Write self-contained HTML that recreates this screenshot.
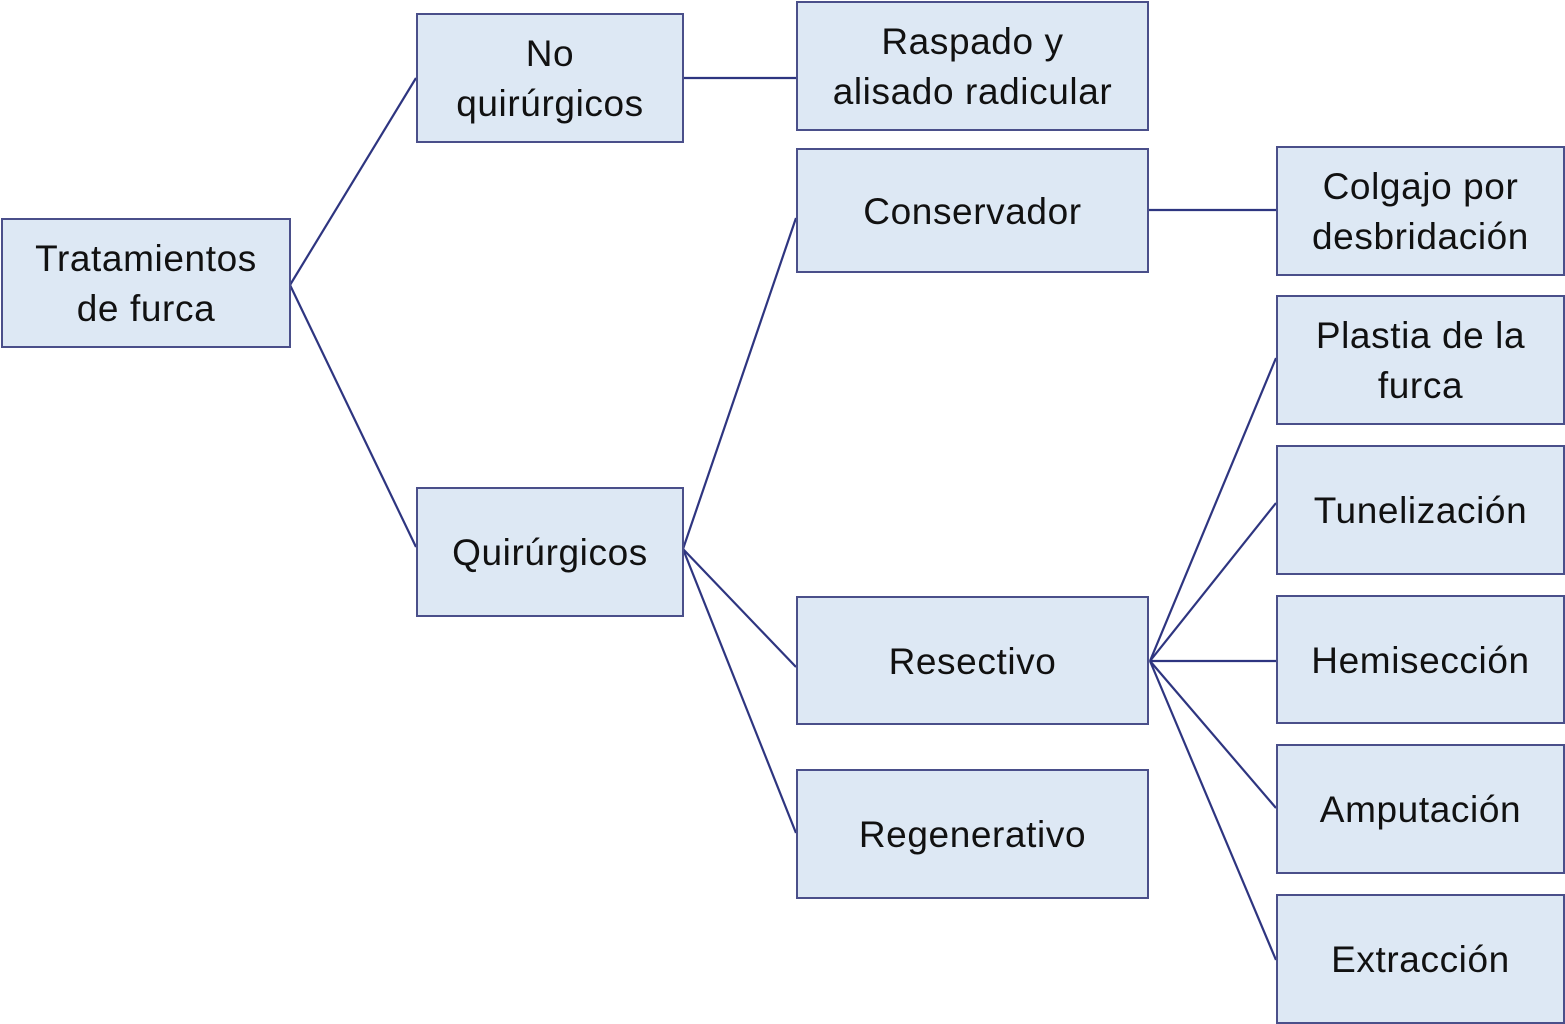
<!DOCTYPE html>
<html><head><meta charset="utf-8"><style>
body{margin:0;width:1565px;height:1024px;background:#fff;position:relative;overflow:hidden;font-family:"Liberation Sans",sans-serif}
.b{position:absolute;box-sizing:border-box;background:#dde8f4;border:2px solid #4a4f8a;display:flex;align-items:center;justify-content:center;text-align:center;font-size:37px;letter-spacing:0.6px;line-height:50px;color:#111;padding-top:2px}
svg{position:absolute;left:0;top:0}
</style></head><body>
<svg width="1565" height="1024"><g stroke="#2e3580" stroke-width="2.2" fill="none">
<line x1="290" y1="285" x2="416" y2="78"/><line x1="290" y1="285" x2="416" y2="547"/>
<line x1="683" y1="78" x2="796" y2="78"/>
<line x1="683" y1="549" x2="796" y2="218"/><line x1="683" y1="549" x2="796" y2="667"/><line x1="683" y1="549" x2="796" y2="833"/>
<line x1="1148" y1="210" x2="1276" y2="210"/>
<line x1="1150" y1="661" x2="1276" y2="358"/><line x1="1150" y1="661" x2="1276" y2="503"/><line x1="1150" y1="661" x2="1276" y2="661"/><line x1="1150" y1="661" x2="1276" y2="808"/><line x1="1150" y1="661" x2="1276" y2="960"/>
</g></svg>
<div class="b" style="left:1px;top:218px;width:290px;height:130px">Tratamientos<br>de furca</div>
<div class="b" style="left:416px;top:13px;width:268px;height:130px">No<br>quirúrgicos</div>
<div class="b" style="left:416px;top:487px;width:268px;height:130px">Quirúrgicos</div>
<div class="b" style="left:796px;top:1px;width:353px;height:130px">Raspado y<br>alisado radicular</div>
<div class="b" style="left:796px;top:148px;width:353px;height:125px">Conservador</div>
<div class="b" style="left:796px;top:596px;width:353px;height:129px">Resectivo</div>
<div class="b" style="left:796px;top:769px;width:353px;height:130px">Regenerativo</div>
<div class="b" style="left:1276px;top:146px;width:289px;height:130px">Colgajo por<br>desbridación</div>
<div class="b" style="left:1276px;top:295px;width:289px;height:130px">Plastia de la<br>furca</div>
<div class="b" style="left:1276px;top:445px;width:289px;height:130px">Tunelización</div>
<div class="b" style="left:1276px;top:595px;width:289px;height:129px">Hemisección</div>
<div class="b" style="left:1276px;top:744px;width:289px;height:130px">Amputación</div>
<div class="b" style="left:1276px;top:894px;width:289px;height:130px">Extracción</div>
</body></html>
